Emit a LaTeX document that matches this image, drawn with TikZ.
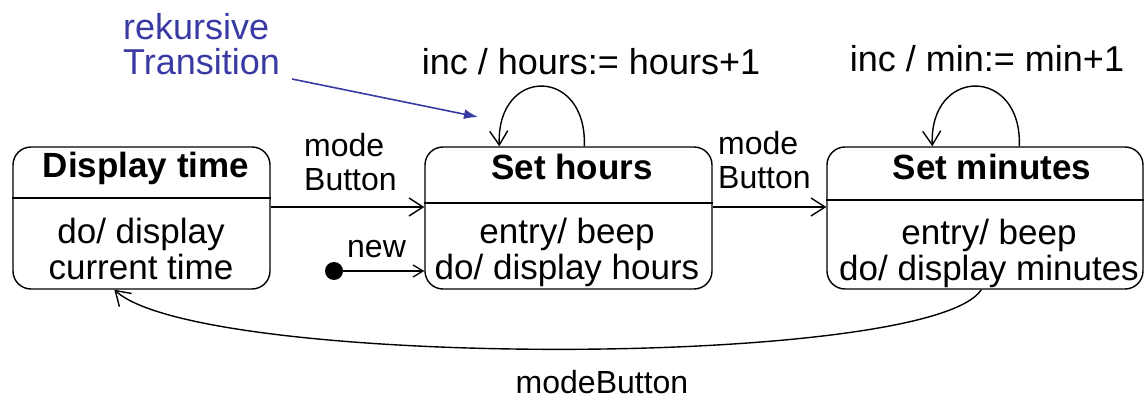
\documentclass[tikz,border=0pt]{standalone}
\usepackage{fontspec}
\setmainfont{Liberation Sans}
\usetikzlibrary{arrows.meta,calc}
\definecolor{noteblue}{RGB}{58,58,165}
\tikzset{
  statebox/.style={draw, line width=1.4pt, rounded corners=18pt, minimum height=142pt, inner sep=0pt},
  divider/.style={line width=1.4pt},
  title/.style={font=\fontsize{35}{37}\selectfont\bfseries, anchor=base, inner sep=0pt},
  body/.style={font=\fontsize{35}{36}\selectfont, align=center, anchor=north, inner sep=0pt},
  lbl/.style={font=\fontsize{32}{34}\selectfont, inner sep=0pt},
  trans/.style={line width=1.4pt, -{Straight Barb[length=14pt,width=18pt,line width=1.4pt]}},
  smalltrans/.style={line width=1.3pt, -{Straight Barb[length=10pt,width=12pt,line width=1.3pt]}},
  startdot/.style={circle, fill=black, minimum size=18pt, inner sep=0pt},
  note/.style={font=\fontsize{36}{35}\selectfont, text=noteblue, align=left, anchor=north west, inner sep=0pt},
  notearrow/.style={draw=noteblue, line width=1.6pt, -{Latex[length=14pt,width=10pt]}}
}
\begin{document}
\begin{tikzpicture}[x=1pt,y=1pt]
\useasboundingbox (0,0) rectangle (1147,399);

% states
\node[statebox, minimum width=257pt] (dt) at (141.5,181) {};
\node[statebox, minimum width=287pt] (sh) at (568.5,181) {};
\node[statebox, minimum width=316pt] (sm) at (985,181) {};

\draw[divider] (dt.west |- 0,201) -- (dt.east |- 0,201);
\draw[divider] (sh.west |- 0,196) -- (sh.east |- 0,196);
\draw[divider] (sm.west |- 0,199) -- (sm.east |- 0,199);

\node[title] (dtt) at (146,221) {Display time};
\node[title] (sht) at (572,219) {Set hours};
\node[title] (smt) at (992,219) {Set minutes};

\node[body] (dtb) at (141,181.5) {do/ display\\current time};
\node[body] (shb) at (567,181.5) {entry/ beep\\do/ display hours};
\node[body] (smb) at (989,180.5) {entry/ beep\\do/ display minutes};

% initial state
\node[startdot] (init) at (334,128) {};
\draw[smalltrans] (init) -- (sh.west |- init);
\node[lbl, anchor=base west] (newl) at (347,141) {new};

% mode transitions
\draw[trans] ($(dt.east)+(0,11)$) -- ($(sh.west)+(0,11)$);
\draw[trans] ($(sh.east)+(0,11)$) -- ($(sm.west)+(0,11)$);
\node[lbl, align=left, anchor=north west] (m1) at (304,266) {mode\\Button};
\node[lbl, align=left, anchor=north west] (m2) at (718,268) {mode\\Button};

% self transitions
\coordinate (l1a) at ($(sh.north west)+(160,0)$);
\coordinate (l1b) at ($(sh.north west)+(75,0)$);
\draw[trans] (l1a) .. controls ($(l1a)+(3,80)$) and ($(l1b)+(-3,80)$) .. (l1b);
\node[lbl, font=\fontsize{36}{38}\selectfont, anchor=base] (inc1) at (591,324) {inc / hours:= hours+1};

\coordinate (l2a) at ($(sm.north west)+(193,0)$);
\coordinate (l2b) at ($(sm.north west)+(106,0)$);
\draw[trans] (l2a) .. controls ($(l2a)+(3,80)$) and ($(l2b)+(-3,80)$) .. (l2b);
\node[lbl, font=\fontsize{36}{38}\selectfont, anchor=base] (inc2) at (987,327) {inc / min:= min+1};

% back to display time
\coordinate (ba) at ($(sm.south west)+(155,0)$);
\coordinate (bb) at ($(dt.south west)+(102,0)$);
\draw[trans] (ba) .. controls (930,30) and (200,30) .. (bb);
\node[lbl, anchor=base] (mb) at (602,6) {modeButton};

% annotation
\node[note] (rk) at (123,386) {rekursive\\Transition};
\coordinate (rkend) at (478,282);
\draw[notearrow] (292,320) -- (rkend);
\end{tikzpicture}
\end{document}
